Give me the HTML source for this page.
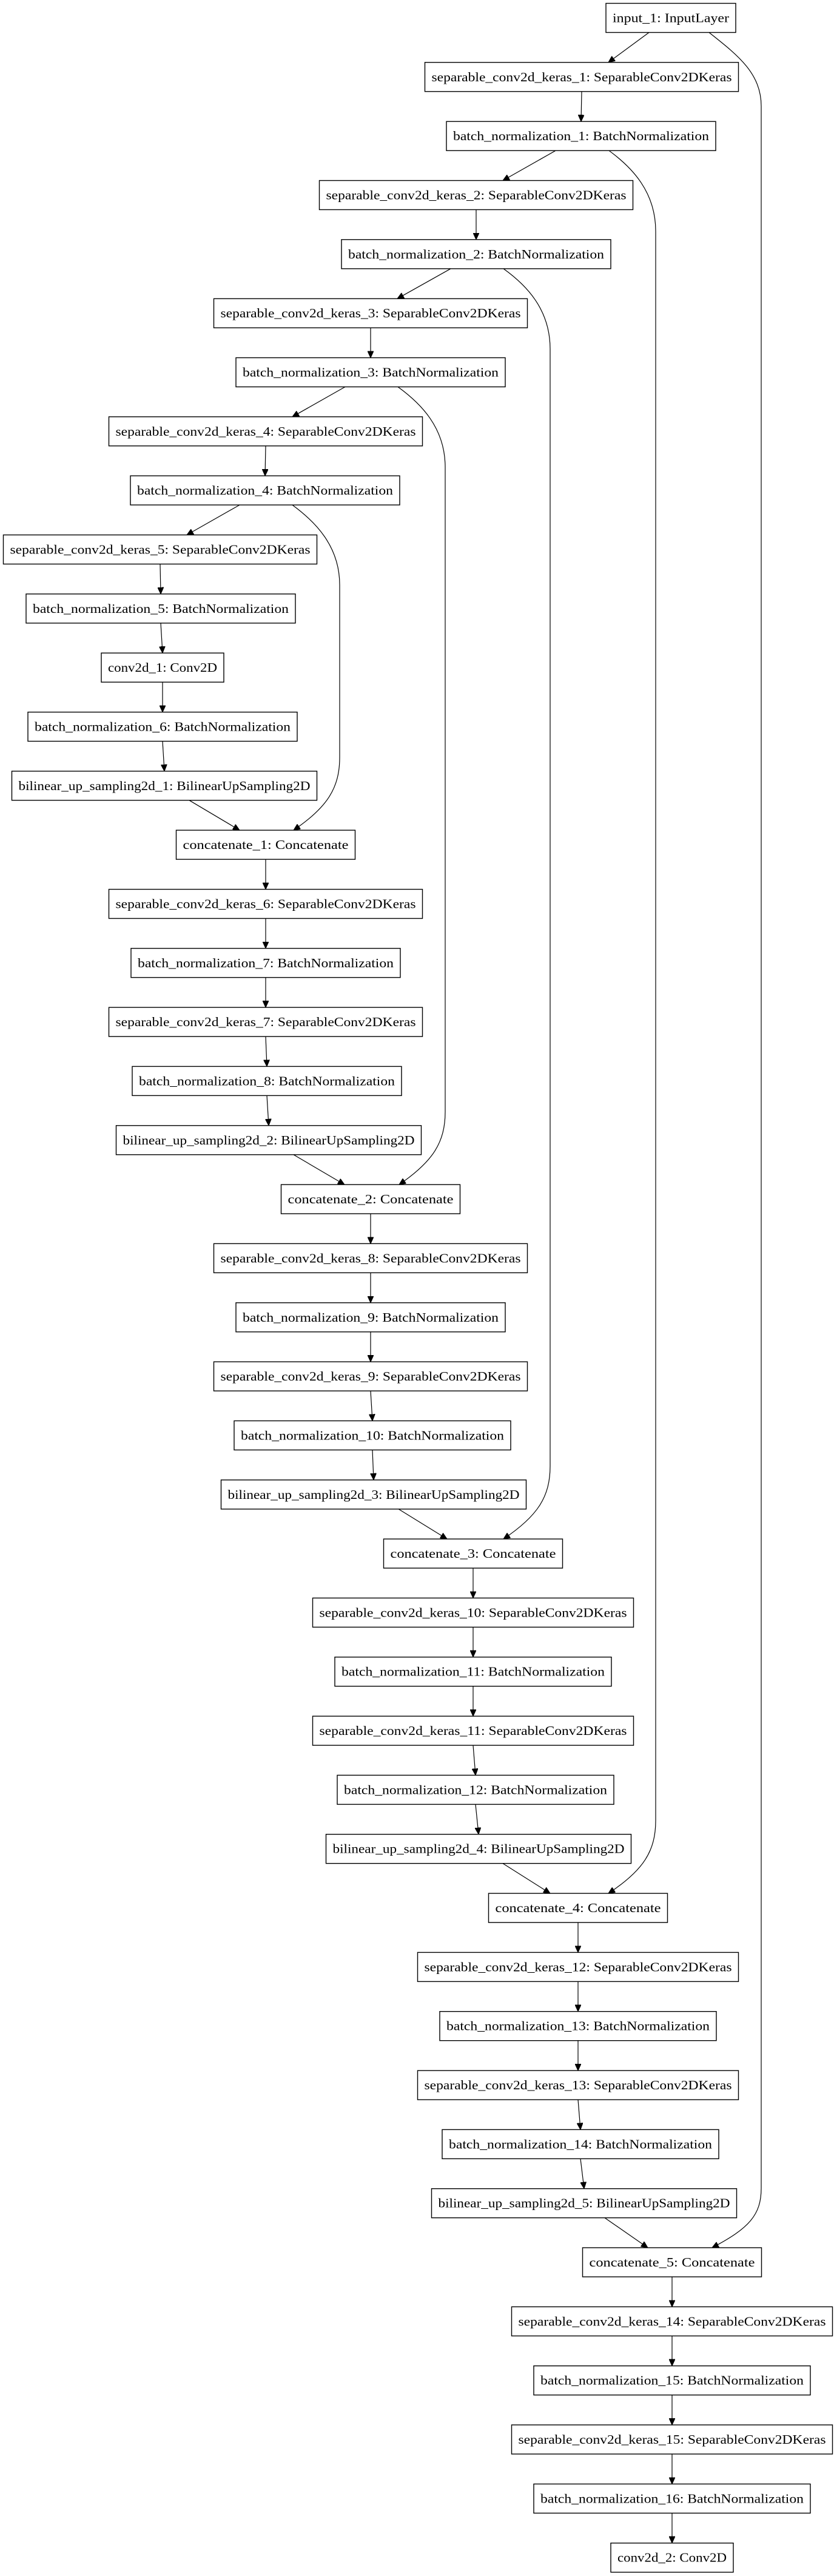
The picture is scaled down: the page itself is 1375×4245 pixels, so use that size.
<!DOCTYPE html>
<html><head><meta charset="utf-8">
<style>
html,body{margin:0;padding:0;background:#fff;}
svg{display:block;}
text{font-family:"Liberation Serif",serif;font-size:21px;fill:#000;}
rect{fill:#fff;stroke:#000;stroke-width:1.4;}
path{fill:none;stroke:#000;stroke-width:1.2;}
</style></head>
<body>
<svg width="1375" height="4245" viewBox="0 0 1375 4245" xmlns="http://www.w3.org/2000/svg">
<defs>
<marker id="a" markerUnits="userSpaceOnUse" markerWidth="11" markerHeight="10" refX="11" refY="5" orient="auto">
<path d="M0,0 L11,5 L0,10 z" style="fill:#000;stroke:#000;stroke-width:1"/>
</marker>
</defs>

<!-- consecutive edges -->
<g marker-end="url(#a)">
<path d="M1070,53.5 L1003,102.8"/>
<path d="M959,150.8 L958,200.2"/>
<path d="M916,248.2 L829,297.5"/>
<path d="M785,345.5 L785,394.8"/>
<path d="M743,442.8 L655,492.2"/>
<path d="M611,540.2 L611,589.5"/>
<path d="M569,637.5 L482,686.8"/>
<path d="M438,734.8 L437,784.1"/>
<path d="M395,832.1 L308,881.5"/>
<path d="M264,929.5 L265,978.8"/>
<path d="M265,1026.8 L268,1076.1"/>
<path d="M268,1124.1 L268,1173.5"/>
<path d="M268,1221.5 L271,1270.8"/>
<path d="M312,1318.8 L395,1368.1"/>
<path d="M438,1416.1 L438,1465.5"/>
<path d="M438,1513.5 L438,1562.8"/>
<path d="M438,1610.8 L438,1660.1"/>
<path d="M438,1708.1 L440,1757.4"/>
<path d="M440,1805.4 L443,1854.8"/>
<path d="M484,1902.8 L568,1952.1"/>
<path d="M611,2000.1 L611,2049.4"/>
<path d="M611,2097.4 L611,2146.8"/>
<path d="M611,2194.8 L611,2244.1"/>
<path d="M611,2292.1 L614,2341.4"/>
<path d="M614,2389.4 L616,2438.8"/>
<path d="M657,2486.8 L737,2536.1"/>
<path d="M780,2584.1 L780,2633.4"/>
<path d="M780,2681.4 L780,2730.7"/>
<path d="M780,2778.7 L780,2828.1"/>
<path d="M780,2876.1 L784,2925.4"/>
<path d="M784,2973.4 L789,3022.7"/>
<path d="M829,3070.7 L907,3120.1"/>
<path d="M953,3168.1 L953,3217.4"/>
<path d="M953,3265.4 L953,3314.7"/>
<path d="M953,3362.7 L953,3412.1"/>
<path d="M953,3460.1 L957,3509.4"/>
<path d="M957,3557.4 L963,3606.7"/>
<path d="M997,3654.7 L1068,3704"/>
<path d="M1108,3752 L1108,3801.4"/>
<path d="M1108,3849.4 L1108,3898.7"/>
<path d="M1108,3946.7 L1108,3996"/>
<path d="M1108,4044 L1108,4093.4"/>
<path d="M1108,4141.4 L1108,4190.7"/>
</g>

<!-- skip edges -->
<g marker-end="url(#a)">
<path d="M482,832.1 C520,860 560,900 560,964 L560,1248 C560,1298 540,1330 484,1368.1"/>
<path d="M656,637.5 C694,665 734,705 734,770 L734,1832 C734,1882 714,1914 658,1952.1"/>
<path d="M830,442.8 C868,470 907,510 907,575 L907,2416 C907,2466 887,2498 830,2536.1"/>
<path d="M1004,248.2 C1042,276 1081,316 1081,381 L1081,3000 C1081,3050 1061,3082 1003,3120.1"/>
<path d="M1169,53.5 C1215,90 1255,120 1255,175 L1255,3606 C1255,3650 1235,3672 1174,3704"/>
</g>

<!-- nodes -->
<rect x="999" y="5.5" width="214" height="48"/><text x="1106" y="36.5" text-anchor="middle" textLength="192" lengthAdjust="spacingAndGlyphs">input_1: InputLayer</text>
<rect x="700.5" y="102.8" width="517" height="48"/><text x="959" y="133.8" text-anchor="middle" textLength="495" lengthAdjust="spacingAndGlyphs">separable_conv2d_keras_1: SeparableConv2DKeras</text>
<rect x="736" y="200.2" width="444" height="48"/><text x="958" y="231.2" text-anchor="middle" textLength="422" lengthAdjust="spacingAndGlyphs">batch_normalization_1: BatchNormalization</text>
<rect x="526.5" y="297.5" width="517" height="48"/><text x="785" y="328.5" text-anchor="middle" textLength="495" lengthAdjust="spacingAndGlyphs">separable_conv2d_keras_2: SeparableConv2DKeras</text>
<rect x="563" y="394.8" width="444" height="48"/><text x="785" y="425.8" text-anchor="middle" textLength="422" lengthAdjust="spacingAndGlyphs">batch_normalization_2: BatchNormalization</text>
<rect x="352.5" y="492.2" width="517" height="48"/><text x="611" y="523.2" text-anchor="middle" textLength="495" lengthAdjust="spacingAndGlyphs">separable_conv2d_keras_3: SeparableConv2DKeras</text>
<rect x="389" y="589.5" width="444" height="48"/><text x="611" y="620.5" text-anchor="middle" textLength="422" lengthAdjust="spacingAndGlyphs">batch_normalization_3: BatchNormalization</text>
<rect x="179.5" y="686.8" width="517" height="48"/><text x="438" y="717.8" text-anchor="middle" textLength="495" lengthAdjust="spacingAndGlyphs">separable_conv2d_keras_4: SeparableConv2DKeras</text>
<rect x="215" y="784.1" width="444" height="48"/><text x="437" y="815.1" text-anchor="middle" textLength="422" lengthAdjust="spacingAndGlyphs">batch_normalization_4: BatchNormalization</text>
<rect x="5.5" y="881.5" width="517" height="48"/><text x="264" y="912.5" text-anchor="middle" textLength="495" lengthAdjust="spacingAndGlyphs">separable_conv2d_keras_5: SeparableConv2DKeras</text>
<rect x="43" y="978.8" width="444" height="48"/><text x="265" y="1009.8" text-anchor="middle" textLength="422" lengthAdjust="spacingAndGlyphs">batch_normalization_5: BatchNormalization</text>
<rect x="167" y="1076.1" width="202" height="48"/><text x="268" y="1107.1" text-anchor="middle" textLength="180" lengthAdjust="spacingAndGlyphs">conv2d_1: Conv2D</text>
<rect x="46" y="1173.5" width="444" height="48"/><text x="268" y="1204.5" text-anchor="middle" textLength="422" lengthAdjust="spacingAndGlyphs">batch_normalization_6: BatchNormalization</text>
<rect x="19.5" y="1270.8" width="503" height="48"/><text x="271" y="1301.8" text-anchor="middle" textLength="481" lengthAdjust="spacingAndGlyphs">bilinear_up_sampling2d_1: BilinearUpSampling2D</text>
<rect x="290.5" y="1368.1" width="295" height="48"/><text x="438" y="1399.1" text-anchor="middle" textLength="273" lengthAdjust="spacingAndGlyphs">concatenate_1: Concatenate</text>
<rect x="179.5" y="1465.5" width="517" height="48"/><text x="438" y="1496.5" text-anchor="middle" textLength="495" lengthAdjust="spacingAndGlyphs">separable_conv2d_keras_6: SeparableConv2DKeras</text>
<rect x="216" y="1562.8" width="444" height="48"/><text x="438" y="1593.8" text-anchor="middle" textLength="422" lengthAdjust="spacingAndGlyphs">batch_normalization_7: BatchNormalization</text>
<rect x="179.5" y="1660.1" width="517" height="48"/><text x="438" y="1691.1" text-anchor="middle" textLength="495" lengthAdjust="spacingAndGlyphs">separable_conv2d_keras_7: SeparableConv2DKeras</text>
<rect x="218" y="1757.4" width="444" height="48"/><text x="440" y="1788.4" text-anchor="middle" textLength="422" lengthAdjust="spacingAndGlyphs">batch_normalization_8: BatchNormalization</text>
<rect x="191.5" y="1854.8" width="503" height="48"/><text x="443" y="1885.8" text-anchor="middle" textLength="481" lengthAdjust="spacingAndGlyphs">bilinear_up_sampling2d_2: BilinearUpSampling2D</text>
<rect x="463.5" y="1952.1" width="295" height="48"/><text x="611" y="1983.1" text-anchor="middle" textLength="273" lengthAdjust="spacingAndGlyphs">concatenate_2: Concatenate</text>
<rect x="352.5" y="2049.4" width="517" height="48"/><text x="611" y="2080.4" text-anchor="middle" textLength="495" lengthAdjust="spacingAndGlyphs">separable_conv2d_keras_8: SeparableConv2DKeras</text>
<rect x="389" y="2146.8" width="444" height="48"/><text x="611" y="2177.8" text-anchor="middle" textLength="422" lengthAdjust="spacingAndGlyphs">batch_normalization_9: BatchNormalization</text>
<rect x="352.5" y="2244.1" width="517" height="48"/><text x="611" y="2275.1" text-anchor="middle" textLength="495" lengthAdjust="spacingAndGlyphs">separable_conv2d_keras_9: SeparableConv2DKeras</text>
<rect x="386" y="2341.4" width="456" height="48"/><text x="614" y="2372.4" text-anchor="middle" textLength="434" lengthAdjust="spacingAndGlyphs">batch_normalization_10: BatchNormalization</text>
<rect x="364.5" y="2438.8" width="503" height="48"/><text x="616" y="2469.8" text-anchor="middle" textLength="481" lengthAdjust="spacingAndGlyphs">bilinear_up_sampling2d_3: BilinearUpSampling2D</text>
<rect x="632.5" y="2536.1" width="295" height="48"/><text x="780" y="2567.1" text-anchor="middle" textLength="273" lengthAdjust="spacingAndGlyphs">concatenate_3: Concatenate</text>
<rect x="515.5" y="2633.4" width="529" height="48"/><text x="780" y="2664.4" text-anchor="middle" textLength="507" lengthAdjust="spacingAndGlyphs">separable_conv2d_keras_10: SeparableConv2DKeras</text>
<rect x="552" y="2730.7" width="456" height="48"/><text x="780" y="2761.7" text-anchor="middle" textLength="434" lengthAdjust="spacingAndGlyphs">batch_normalization_11: BatchNormalization</text>
<rect x="515.5" y="2828.1" width="529" height="48"/><text x="780" y="2859.1" text-anchor="middle" textLength="507" lengthAdjust="spacingAndGlyphs">separable_conv2d_keras_11: SeparableConv2DKeras</text>
<rect x="556" y="2925.4" width="456" height="48"/><text x="784" y="2956.4" text-anchor="middle" textLength="434" lengthAdjust="spacingAndGlyphs">batch_normalization_12: BatchNormalization</text>
<rect x="537.5" y="3022.7" width="503" height="48"/><text x="789" y="3053.7" text-anchor="middle" textLength="481" lengthAdjust="spacingAndGlyphs">bilinear_up_sampling2d_4: BilinearUpSampling2D</text>
<rect x="805.5" y="3120.1" width="295" height="48"/><text x="953" y="3151.1" text-anchor="middle" textLength="273" lengthAdjust="spacingAndGlyphs">concatenate_4: Concatenate</text>
<rect x="688.5" y="3217.4" width="529" height="48"/><text x="953" y="3248.4" text-anchor="middle" textLength="507" lengthAdjust="spacingAndGlyphs">separable_conv2d_keras_12: SeparableConv2DKeras</text>
<rect x="725" y="3314.7" width="456" height="48"/><text x="953" y="3345.7" text-anchor="middle" textLength="434" lengthAdjust="spacingAndGlyphs">batch_normalization_13: BatchNormalization</text>
<rect x="688.5" y="3412.1" width="529" height="48"/><text x="953" y="3443.1" text-anchor="middle" textLength="507" lengthAdjust="spacingAndGlyphs">separable_conv2d_keras_13: SeparableConv2DKeras</text>
<rect x="729" y="3509.4" width="456" height="48"/><text x="957" y="3540.4" text-anchor="middle" textLength="434" lengthAdjust="spacingAndGlyphs">batch_normalization_14: BatchNormalization</text>
<rect x="711.5" y="3606.7" width="503" height="48"/><text x="963" y="3637.7" text-anchor="middle" textLength="481" lengthAdjust="spacingAndGlyphs">bilinear_up_sampling2d_5: BilinearUpSampling2D</text>
<rect x="960.5" y="3704" width="295" height="48"/><text x="1108" y="3735" text-anchor="middle" textLength="273" lengthAdjust="spacingAndGlyphs">concatenate_5: Concatenate</text>
<rect x="843.5" y="3801.4" width="529" height="48"/><text x="1108" y="3832.4" text-anchor="middle" textLength="507" lengthAdjust="spacingAndGlyphs">separable_conv2d_keras_14: SeparableConv2DKeras</text>
<rect x="880" y="3898.7" width="456" height="48"/><text x="1108" y="3929.7" text-anchor="middle" textLength="434" lengthAdjust="spacingAndGlyphs">batch_normalization_15: BatchNormalization</text>
<rect x="843.5" y="3996" width="529" height="48"/><text x="1108" y="4027" text-anchor="middle" textLength="507" lengthAdjust="spacingAndGlyphs">separable_conv2d_keras_15: SeparableConv2DKeras</text>
<rect x="880" y="4093.4" width="456" height="48"/><text x="1108" y="4124.4" text-anchor="middle" textLength="434" lengthAdjust="spacingAndGlyphs">batch_normalization_16: BatchNormalization</text>
<rect x="1007" y="4190.7" width="202" height="48"/><text x="1108" y="4221.7" text-anchor="middle" textLength="180" lengthAdjust="spacingAndGlyphs">conv2d_2: Conv2D</text>
</svg>
</body></html>
